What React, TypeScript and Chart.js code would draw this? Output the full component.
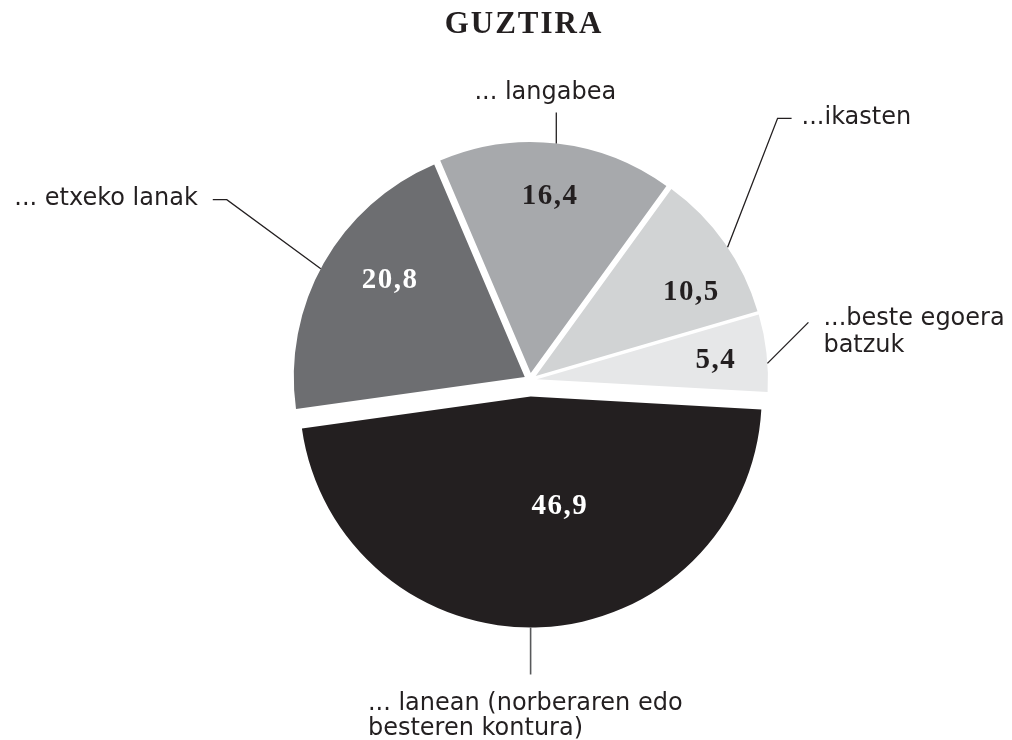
import React, { useEffect, useRef } from "react";
import { Chart, registerables } from "chart.js";

Chart.register(...registerables);

// ---- data ----
const TITLE = "GUZTIRA";
const CATEGORIES = [
  "... lanean (norberaren edo besteren kontura)",
  "... etxeko lanak",
  "... langabea",
  "...ikasten",
  "...beste egoera batzuk",
];
const LABEL_LINES = [
  ["... lanean (norberaren edo", "besteren kontura)"],
  ["... etxeko lanak"],
  ["... langabea"],
  ["...ikasten"],
  ["...beste egoera", "batzuk"],
];
const VALUES = [46.9, 20.8, 16.4, 10.5, 5.4];

// ---- styles ----
const SLICE_COLORS = ["#231f20", "#6d6e71", "#a7a9ac", "#d1d3d4", "#e6e7e8"];
const VALUE_COLORS = ["#ffffff", "#ffffff", "#231f20", "#231f20", "#231f20"];
const TEXT_COLOR = "#231f20";
const EXPLODE = [16.5, 6, 7, 7, 7];
// value label placement: [angle offset from slice mid (deg), fraction of radius]
const VALUE_POS = [
  [-12, 0.49],
  [5.8, 0.72],
  [-0.5, 0.77],
  [6.9, 0.76],
  [0.4, 0.775],
];
// leader lines: edge angle offset from mid (deg), segments, text offset from end
const LEADERS = [
  { da: 2.4, segs: [[0, 47]], tx: -162.7, ty: 36, lh: 25, align: "left", color: "#58595b", w: 1.6 },
  { da: -1.5, segs: [[-94, -69], [-14, 0]], tx: -15, ty: 5, lh: 27, align: "right", color: "#231f20", w: 1.3 },
  { da: -0.1, segs: [[0, -31]], tx: -11, ty: -13, lh: 27, align: "center", color: "#231f20", w: 1.3 },
  { da: 1.3, segs: [[50, -129], [14, 0]], tx: 10, ty: 6, lh: 27, align: "left", color: "#231f20", w: 1.3 },
  { da: 2.6, segs: [[41, -41]], tx: 15, ty: 3, lh: 27, align: "left", color: "#231f20", w: 1.3 },
];

const fmt = (v: number) => v.toFixed(1).replace(".", ",");

const explodePlugin = {
  id: "explodeSlices",
  afterDatasetUpdate(chart: any, args: any) {
    const arcs = args.meta.data;
    arcs.forEach((el: any, i: number) => {
      const mid = (el.startAngle + el.endAngle) / 2;
      const d = EXPLODE[i] || 0;
      el.x += d * Math.cos(mid);
      el.y += d * Math.sin(mid);
    });
  },
};

const labelsPlugin = {
  id: "pieLabels",
  afterDatasetsDraw(chart: any) {
    const ctx = chart.ctx;
    const arcs = chart.getDatasetMeta(0).data;
    const area = chart.chartArea;
    const cx = (area.left + area.right) / 2;
    ctx.save();
    // title
    ctx.fillStyle = TEXT_COLOR;
    ctx.font = 'bold 31px "Liberation Serif"';
    (ctx as any).letterSpacing = "2px";
    ctx.textAlign = "center";
    ctx.textBaseline = "alphabetic";
    ctx.fillText(TITLE, cx - 6, 33);

    // value labels
    (ctx as any).letterSpacing = "1.5px";
    ctx.font = 'bold 29px "Liberation Serif"';
    ctx.textBaseline = "middle";
    arcs.forEach((el: any, i: number) => {
      const mid = (el.startAngle + el.endAngle) / 2 + (VALUE_POS[i][0] * Math.PI) / 180;
      const r = el.outerRadius * VALUE_POS[i][1];
      ctx.fillStyle = VALUE_COLORS[i];
      ctx.fillText(fmt(VALUES[i]), el.x + r * Math.cos(mid) + 1, el.y + r * Math.sin(mid));
    });

    // leaders + category labels
    (ctx as any).letterSpacing = "0px";
    ctx.font = '24px "DejaVu Sans"';
    ctx.textBaseline = "alphabetic";
    arcs.forEach((el: any, i: number) => {
      const L = LEADERS[i];
      const a = (el.startAngle + el.endAngle) / 2 + (L.da * Math.PI) / 180;
      let x = el.x + el.outerRadius * Math.cos(a);
      let y = el.y + el.outerRadius * Math.sin(a);
      ctx.beginPath();
      ctx.moveTo(x, y);
      L.segs.forEach((s: number[]) => {
        x += s[0];
        y += s[1];
        ctx.lineTo(x, y);
      });
      ctx.strokeStyle = L.color;
      ctx.lineWidth = L.w;
      ctx.stroke();
      ctx.fillStyle = TEXT_COLOR;
      ctx.textAlign = L.align;
      LABEL_LINES[i].forEach((line, j) => {
        ctx.fillText(line, x + L.tx, y + L.ty + j * L.lh);
      });
    });
    ctx.restore();
  },
};

export default function App() {
  const ref = useRef<HTMLCanvasElement | null>(null);
  useEffect(() => {
    if (!ref.current) return;
    const chart = new Chart(ref.current, {
      type: "pie",
      data: {
        labels: CATEGORIES,
        datasets: [
          {
            data: VALUES,
            backgroundColor: SLICE_COLORS,
            borderWidth: 0,
            offset: 0,
            hoverOffset: 0,
          },
        ],
      },
      options: {
        animation: false,
        responsive: true,
        maintainAspectRatio: false,
        events: [],
        rotation: 93.2,
        radius: 231,
        layout: { padding: { left: 100, right: 52, top: 100, bottom: 80 } },
        plugins: {
          legend: { display: false },
          tooltip: { enabled: false },
          title: { display: false },
        },
      } as any,
      plugins: [explodePlugin, labelsPlugin],
    });
    return () => chart.destroy();
  }, []);
  return (
    <div
      style={{
        position: "fixed",
        left: 0,
        top: 0,
        width: 1012,
        height: 740,
        background: "#ffffff",
      }}
    >
      <canvas ref={ref} />
    </div>
  );
}
